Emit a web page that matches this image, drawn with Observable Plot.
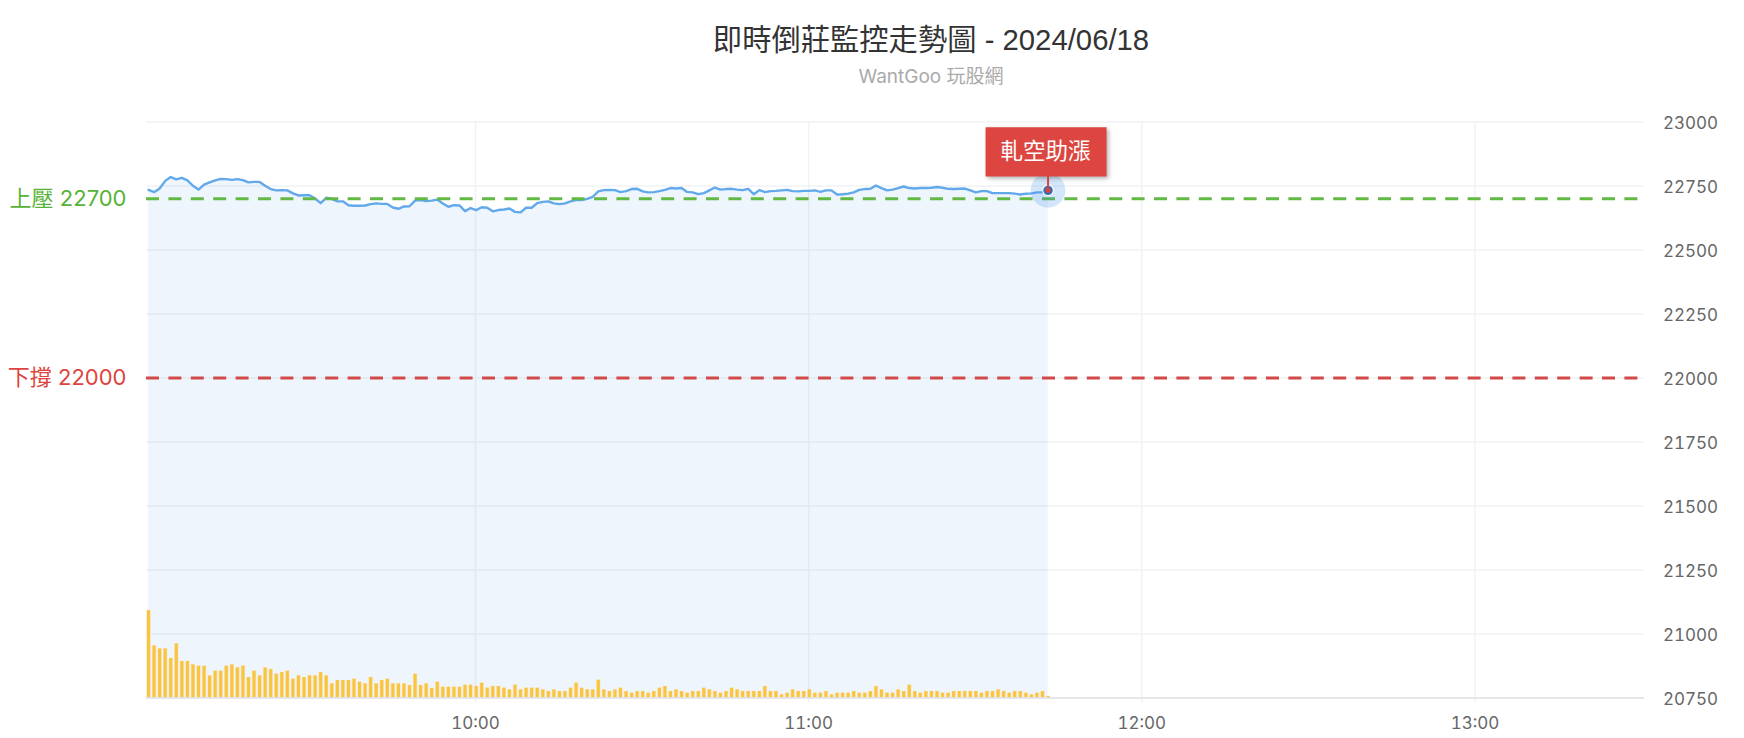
<!DOCTYPE html>
<html><head><meta charset="utf-8">
<script src="https://cdn.jsdelivr.net/npm/d3@7"></script>
<script src="https://cdn.jsdelivr.net/npm/@observablehq/plot@0.6"></script>
<style>
html,body{margin:0;padding:0;background:#fff;width:1744px;overflow:hidden}
body{font-family:"Liberation Sans","Noto Sans CJK TC",sans-serif}
#head{height:100px;margin-left:118px;text-align:center;position:relative}
#title{position:absolute;left:0;right:0;top:22px;font-size:29.3px;line-height:36px;color:#333}
#sub{position:absolute;left:0;right:0;top:66px;font-size:19px;line-height:22px;color:#aaa;font-family:Inter,"Noto Sans CJK TC",sans-serif}
svg{display:block}
.labelbox{filter:drop-shadow(2px 2px 2px rgba(0,0,0,.3))}
</style></head><body>
<div id="head"><div id="title">即時倒莊監控走勢圖 - 2024/06/18</div><div id="sub">WantGoo 玩股網</div></div>
<div id="chart"></div>
<script>
const priceLevels=[23000,22750,22500,22250,22000,21750,21500,21250,21000,20750];
const timeTicks=["10:00","11:00","12:00","13:00"];
const prices=[22735,22726,22740,22770,22785,22776,22782,22772,22751,22736,22755,22764,22772,22778,22777,22774,22777,22773,22764,22766,22766,22751,22738,22733,22734,22733,22721,22713,22714,22714,22701,22683,22704,22700,22690,22690,22675,22673,22673,22674,22679,22682,22680,22680,22666,22661,22670,22671,22693,22695,22691,22693,22697,22682,22669,22675,22674,22652,22664,22656,22667,22665,22651,22656,22658,22662,22649,22647,22665,22665,22683,22688,22690,22682,22679,22682,22690,22695,
22695,22700,22708,22729,22734,22735,22734,22726,22730,22738,22739,22729,22725,22726,22730,22735,22742,22740,22742,22727,22725,22718,22722,22733,22744,22736,22738,22739,22736,22734,22739,22718,22734,22726,22730,22731,22733,22735,22730,22729,22731,22731,22733,22727,22733,22733,22717,22718,22720,22725,22735,22738,22739,22752,22742,22733,22736,22742,22748,22742,22740,22742,22742,22743,22746,22743,22739,22738,22739,22740,22733,22725,22730,22730,22722,22722,22722,22722,22720,22717,22720,22721,22725,22725,22733];
const volumes=[263,157,148,148,119,163,110,110,100,96,96,67,81,81,96,100,91,96,62,81,67,91,86,72,77,81,57,67,62,67,67,77,67,43,53,53,53,57,48,43,62,43,53,57,43,43,43,38,72,38,43,29,48,33,33,33,33,
39,39,35,45,30,35,35,30,25,39,25,30,30,30,25,20,25,20,20,30,45,30,25,25,54,25,20,25,30,20,15,20,20,15,20,30,35,20,25,20,15,20,20,30,25,20,15,20,30,25,20,20,20,20,35,20,20,
10,15,25,20,20,25,15,15,20,10,15,15,15,20,15,15,20,35,25,15,15,25,20,39,20,15,20,20,20,15,15,20,20,20,20,20,15,20,20,25,20,15,20,20,15,10,15,20,5];
const resistance=22700, support=22000;
const resistanceLabel="上壓 22700", supportLabel="下撐 22000", signalLabel="軋空助漲";

const firstPoint=Date.UTC(2024,5,18,9,1,7);
const at=(h,m,s=0)=>new Date(Date.UTC(2024,5,18,h,m,s));
const volumeUnit=250/192; // volume is drawn on its own small scale at the foot of the price axis
const base=priceLevels[priceLevels.length-1];
const table=prices.map((p,i)=>({t:new Date(firstPoint+i*60000),p,top:base+(volumes[i]||0)*volumeUnit}));
const last=table[table.length-1];
const tickDates=timeTicks.map(s=>{const [h,m]=s.split(":").map(Number);return at(h,m)});
const gridCol="#f1f2f4";
const tickFont='Inter,"Noto Sans CJK TC",sans-serif';
const leftEdge=at(9,0,45);

const plot=Plot.plot({
  width:1744,height:638,marginLeft:146,marginRight:100,marginTop:21.5,marginBottom:40.5,
  style:{fontFamily:tickFont,background:"#fff"},
  x:{type:"utc",domain:[leftEdge,at(13,30,32)]},
  y:{domain:[20750,23000]},
  marks:[
    Plot.ruleY(priceLevels,{stroke:gridCol,strokeWidth:1.5}),
    Plot.ruleX(tickDates,{y1:20750,y2:23000,stroke:gridCol,strokeWidth:1.5}),
    Plot.axisX({ticks:tickDates,tickFormat:d3.utcFormat("%H:%M"),tickSize:5,tickPadding:14,stroke:gridCol,strokeWidth:1.5,fill:"#666",fontSize:17,label:null}),
    Plot.axisY({anchor:"right",ticks:priceLevels,tickSize:0,tickPadding:18.5,dy:1.5,tickFormat:d=>String(d),fill:"#666",fontSize:17,label:null}),
    Plot.areaY(table,{x:"t",y1:20750,y2:"p",fill:"#3d8fe8",fillOpacity:0.085}),
    Plot.ruleX(table,{x:"t",y1:20750,y2:"top",stroke:"#fbe6bf",strokeWidth:4.4}),
    Plot.ruleX(table,{x:"t",y1:20750,y2:d=>d.top-1,stroke:"#f9c440",strokeWidth:3.1}),
    Plot.ruleY([20750],{stroke:"#dfe1e5",strokeWidth:1.5}),
    Plot.lineY(table,{x:"t",y:"p",stroke:"#62a9ec",strokeWidth:2.4,strokeLinejoin:"round"}),
    Plot.ruleY([resistance],{stroke:"#62ba45",strokeWidth:3,strokeDasharray:"13 9.4"}),
    Plot.ruleY([support],{stroke:"#d24a47",strokeWidth:3,strokeDasharray:"13 9.4"}),
    Plot.text([resistanceLabel],{x:leftEdge,y:resistance,text:d=>d,dx:-20,textAnchor:"end",fill:"#57b336",fontSize:22}),
    Plot.text([supportLabel],{x:leftEdge,y:support,text:d=>d,dx:-20,textAnchor:"end",fill:"#dd4440",fontSize:22}),
    Plot.dot([last],{x:"t",y:"p",r:17.3,fill:"#3d8fe8",fillOpacity:0.22}),
    Plot.dot([last],{x:"t",y:"p",r:6,fill:"#fff",fillOpacity:.8}),
    Plot.dot([last],{x:"t",y:"p",r:4.7,fill:"#2f6fb6"}),
    Plot.dot([last],{x:"t",y:"p",r:17,className:"labelbox",fill:"#dd4640",dy:-38.5,dx:-2,
      symbol:{draw(c){c.rect(-60.5,-24.7,121,49.4)}}}),
    Plot.ruleX([last],{x:"t",y1:"p",y2:d=>d.p+60,stroke:"#d8433f",strokeWidth:2}),
    Plot.dot([last],{x:"t",y:"p",r:2.6,fill:"#d8433f"}),
    Plot.text([signalLabel],{x:()=>last.t,y:()=>last.p,text:d=>d,dy:-38.5,dx:-2.5,fill:"#fff",fontSize:22.5})
  ]
});
document.getElementById("chart").append(plot);
</script></body></html>
